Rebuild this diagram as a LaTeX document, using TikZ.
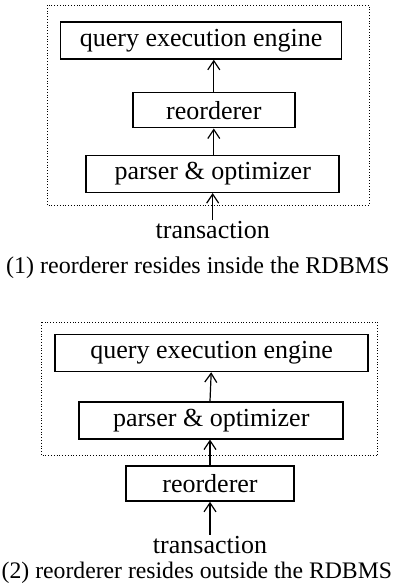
\documentclass[tikz,border=0pt]{standalone}
\usepackage{fontspec}
\setmainfont{Liberation Serif}
\usetikzlibrary{arrows.meta}
\begin{document}
\begin{tikzpicture}[x=1pt,y=-1pt,
    box/.style={draw,line width=1.5pt,inner sep=0pt,minimum height=37pt,
      font=\fontsize{26}{30}\selectfont},
    lbl/.style={inner sep=1pt,anchor=base,font=\fontsize{26}{30}\selectfont},
    captext/.style={inner sep=0pt,anchor=base west,font=\fontsize{24}{28}\selectfont},
    sys/.style={draw,dotted,line width=0.8pt},
    flow/.style={line width=1.2pt,-{Straight Barb[length=9pt,width=12pt]}}]
  \useasboundingbox (0,0) rectangle (394,587);
  % (1) reorderer inside
  \draw[sys] (47,5) rectangle (369,205);
  \draw
    (201.2,40.5) node[box,minimum width=281pt] (qe1){query execution engine}
    (213.8,110.2) node[box,minimum width=162pt,minimum height=35pt] (ro1){reorderer}
    (212.7,173.8) node[box,minimum width=253pt] (po1){parser \& optimizer}
    (212.7,238.3) node[lbl] (tr1){transaction}
    (6,273) node[captext] (cap1){(1) reorderer resides inside the RDBMS};
  \begin{scope}[flow]
    \draw (ro1.north) to (ro1.north |- qe1.south);
    \draw (po1.north -| ro1.north) to (ro1.south);
    \draw (tr1.north) to (po1.south);
  \end{scope}
  % (2) reorderer outside
  \draw[sys] (41.7,322.3) rectangle (377.7,455.7);
  \draw
    (211.7,353) node[box,minimum width=313pt] (qe2){query execution engine}
    (211.2,420.3) node[box,minimum width=264pt] (po2){parser \& optimizer}
    (210,483.5) node[box,minimum width=168pt,minimum height=35pt] (ro2){reorderer}
    (210,553) node[lbl] (tr2){transaction}
    (1.5,578) node[captext,font=\fontsize{23.7}{28}\selectfont] (cap2){(2) reorderer resides outside the RDBMS};
  \begin{scope}[flow]
    \draw (po2.north -| ro2.north) to (po2.north |- qe2.south);
    \draw (ro2.north) to (ro2.north |- po2.south);
    \draw (tr2.north) to (ro2.south);
  \end{scope}
\end{tikzpicture}
\end{document}
